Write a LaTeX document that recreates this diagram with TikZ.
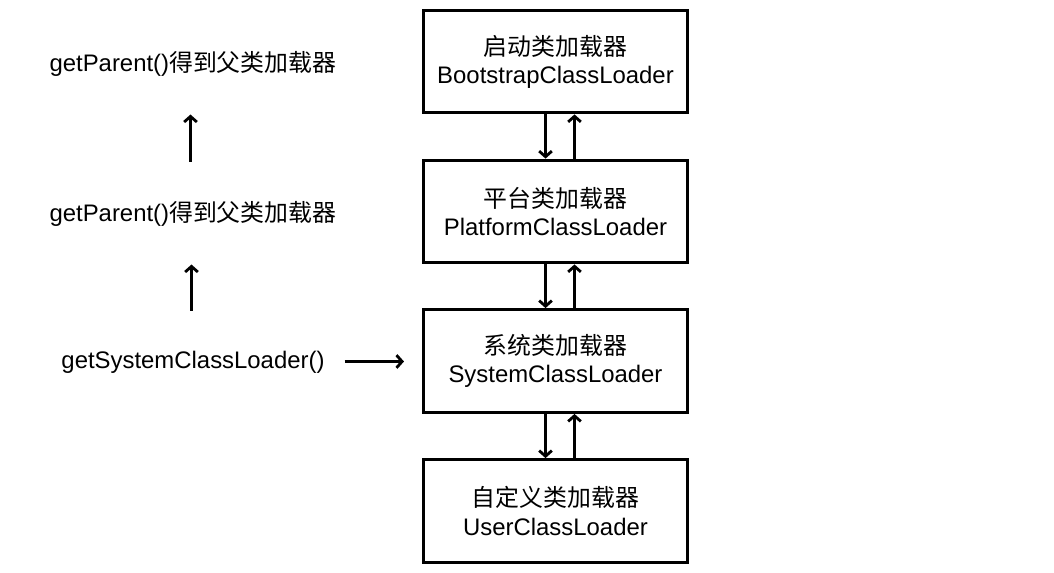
\documentclass[tikz,border=0pt]{standalone}
\usepackage{fontspec}
\setmainfont{Liberation Sans}
\newfontfamily\cjk{Noto Sans CJK SC}
\usetikzlibrary{arrows.meta}

\begin{document}
\begin{tikzpicture}[x=0.025cm,y=-0.025cm,
  loader/.style={draw,line width=2.1pt,minimum width=6.6cm,minimum height=2.57cm,align=center,font=\fontsize{17}{20}\selectfont},
  call/.style={font=\fontsize{17}{20}\selectfont},
  link/.style={line width=2pt,-{Straight Barb[length=4pt,width=9pt]}}]
\useasboundingbox (0,0) rectangle (1054,573);

\node[loader] (boot) at (555.5,61.5) {{\cjk 启动类加载器}\\BootstrapClassLoader};
\node[loader] (plat) at (555.5,211.5) {{\cjk 平台类加载器}\\PlatformClassLoader};
\node[loader] (sys) at (555.5,361) {{\cjk 系统类加载器}\\SystemClassLoader};
\node[loader] (user) at (555.5,511) {{\cjk 自定义类加载器}\\UserClassLoader};

% down and up between the loaders
\draw[link] ([xshift=-10*0.025cm]boot.south) -- ([xshift=-10*0.025cm]plat.north);
\draw[link] ([xshift=19*0.025cm]plat.north) -- ([xshift=19*0.025cm]boot.south);
\draw[link] ([xshift=-10*0.025cm]plat.south) -- ([xshift=-10*0.025cm]sys.north);
\draw[link] ([xshift=19*0.025cm]sys.north) -- ([xshift=19*0.025cm]plat.south);
\draw[link] ([xshift=-10*0.025cm]sys.south) -- ([xshift=-10*0.025cm]user.north);
\draw[link] ([xshift=19*0.025cm]user.north) -- ([xshift=19*0.025cm]sys.south);

\node[call] (parent1) at (193,64) {getParent()\cjk 得到父类加载器};
\node[call] (parent2) at (193,214) {getParent()\cjk 得到父类加载器};
\node[call] (getsys) at (193,362) {getSystemClassLoader()};

% getParent() chain on the left
\draw[link,shorten <=35*0.025cm,shorten >=33*0.025cm] ([xshift=-2.5*0.025cm]parent2.north) -- ([xshift=-2.5*0.025cm]parent1.south);
\draw[link,shorten <=35*0.025cm,shorten >=33*0.025cm] ([xshift=-1.5*0.025cm]getsys.north) -- ([xshift=-1.5*0.025cm]parent2.south);
\draw[link,shorten <=15*0.025cm,shorten >=18*0.025cm] ([yshift=0.5*0.025cm]getsys.east) -- ([yshift=0.5*0.025cm]getsys.east -| sys.west);
\end{tikzpicture}
\end{document}
